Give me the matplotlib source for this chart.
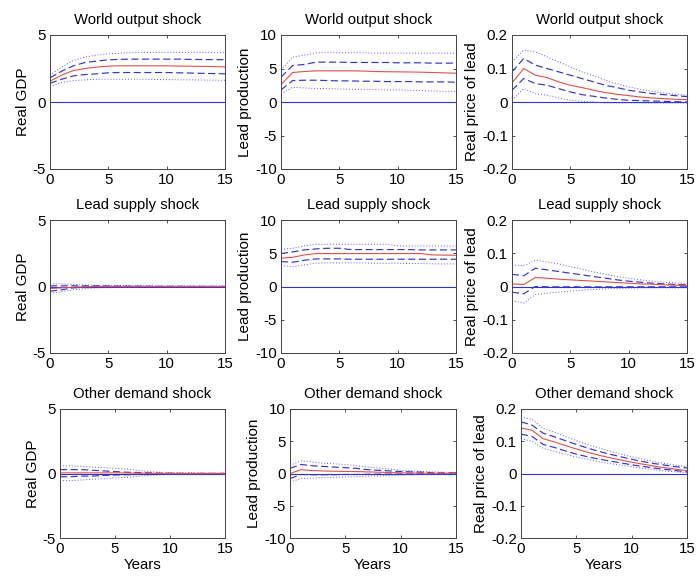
import matplotlib

matplotlib.use("Agg")

import matplotlib.pyplot as plt

plt.rcParams["font.family"] = ["Liberation Sans", "DejaVu Sans"]

years = list(range(16))

shocks = ["World output shock", "Lead supply shock", "Other demand shock"]
variables = ["Real GDP", "Lead production", "Real price of lead"]
ylims = [(-5, 5), (-10, 10), (-0.2, 0.2)]
yticks = [[-5, 0, 5], [-10, -5, 0, 5, 10], [-0.2, -0.1, 0, 0.1, 0.2]]

# each panel: median, lower dashed, upper dashed, lower dotted, upper dotted
wo_gdp = [
    [1.55, 2.0, 2.35, 2.5, 2.6, 2.68, 2.7, 2.7, 2.7, 2.7, 2.7, 2.68, 2.67, 2.66, 2.65, 2.62],
    [1.4, 1.7, 1.95, 2.05, 2.1, 2.18, 2.2, 2.2, 2.2, 2.2, 2.2, 2.18, 2.16, 2.14, 2.12, 2.1],
    [1.8, 2.3, 2.7, 2.95, 3.05, 3.15, 3.18, 3.2, 3.2, 3.2, 3.2, 3.2, 3.18, 3.17, 3.16, 3.16],
    [1.17, 1.45, 1.6, 1.65, 1.7, 1.7, 1.7, 1.7, 1.7, 1.68, 1.67, 1.66, 1.65, 1.64, 1.63, 1.62],
    [2.0, 2.6, 3.1, 3.35, 3.5, 3.6, 3.65, 3.68, 3.7, 3.7, 3.7, 3.7, 3.7, 3.7, 3.68, 3.68],
]
wo_prod = [
    [2.6, 4.4, 4.55, 4.65, 4.65, 4.65, 4.65, 4.62, 4.55, 4.52, 4.5, 4.48, 4.45, 4.4, 4.35, 4.3],
    [1.8, 3.2, 3.25, 3.25, 3.2, 3.15, 3.15, 3.1, 3.1, 3.05, 3.05, 3.05, 3.0, 3.0, 3.0, 2.95],
    [3.7, 5.45, 5.6, 5.95, 5.95, 5.95, 5.9, 5.9, 5.9, 5.9, 5.85, 5.85, 5.85, 5.8, 5.8, 5.8],
    [1.2, 2.2, 2.1, 2.0, 2.0, 1.95, 1.9, 1.9, 1.85, 1.8, 1.8, 1.75, 1.7, 1.65, 1.6, 1.6],
    [4.8, 6.7, 7.0, 7.35, 7.35, 7.35, 7.35, 7.35, 7.3, 7.3, 7.3, 7.3, 7.3, 7.3, 7.3, 7.3],
]
wo_price = [
    [0.057, 0.10, 0.08, 0.073, 0.06, 0.05, 0.043, 0.035, 0.028, 0.023, 0.019, 0.015, 0.012, 0.01, 0.008, 0.007],
    [0.035, 0.07, 0.055, 0.05, 0.04, 0.03, 0.022, 0.017, 0.012, 0.008, 0.005, 0.004, 0.003, 0.002, 0.001, 0.0],
    [0.09, 0.13, 0.11, 0.10, 0.09, 0.08, 0.07, 0.06, 0.05, 0.043, 0.035, 0.03, 0.025, 0.022, 0.019, 0.016],
    [0.005, 0.04, 0.025, 0.02, 0.012, 0.005, 0.002, 0.0, -0.003, -0.003, -0.003, -0.003, -0.003, -0.003, -0.003, -0.003],
    [0.12, 0.155, 0.15, 0.135, 0.12, 0.105, 0.09, 0.078, 0.065, 0.055, 0.045, 0.038, 0.032, 0.027, 0.023, 0.02],
]
ls_gdp = [
    [-0.15, -0.1, -0.05, -0.02, 0.0, 0.0, 0.0, 0.0, 0.0, 0.0, 0.0, 0.0, 0.0, 0.0, 0.0, 0.0],
    [-0.35, -0.25, -0.1, -0.05, -0.03, -0.02, -0.01, 0.0, 0.0, 0.0, 0.0, 0.0, 0.0, 0.0, 0.0, 0.0],
    [0.05, 0.05, 0.05, 0.05, 0.05, 0.04, 0.03, 0.02, 0.02, 0.01, 0.01, 0.01, 0.0, 0.0, 0.0, 0.0],
    [-0.5, -0.4, -0.25, -0.15, -0.1, -0.08, -0.06, -0.05, -0.04, -0.03, -0.03, -0.03, -0.03, -0.03, -0.03, -0.03],
    [0.2, 0.2, 0.15, 0.12, 0.1, 0.09, 0.08, 0.07, 0.06, 0.05, 0.05, 0.05, 0.05, 0.05, 0.05, 0.05],
]
ls_prod = [
    [4.25, 4.4, 4.75, 4.95, 4.95, 4.95, 4.95, 4.95, 4.95, 4.95, 4.95, 4.95, 4.95, 4.75, 4.72, 4.7],
    [3.75, 3.65, 3.95, 4.15, 4.15, 4.15, 4.1, 4.1, 4.1, 4.1, 4.1, 4.1, 4.1, 4.1, 4.1, 4.1],
    [4.95, 5.2, 5.5, 5.65, 5.75, 5.75, 5.55, 5.55, 5.55, 5.55, 5.55, 5.55, 5.5, 5.5, 5.5, 5.5],
    [3.15, 2.95, 3.25, 3.5, 3.55, 3.55, 3.55, 3.55, 3.5, 3.5, 3.5, 3.45, 3.45, 3.4, 3.4, 3.4],
    [5.6, 5.75, 6.1, 6.35, 6.35, 6.35, 6.35, 6.35, 6.35, 6.35, 6.1, 6.1, 6.1, 6.1, 6.1, 6.1],
]
ls_price = [
    [0.008, 0.006, 0.027, 0.025, 0.022, 0.02, 0.018, 0.016, 0.014, 0.012, 0.01, 0.008, 0.007, 0.005, 0.004, 0.003],
    [-0.017, -0.022, 0.0, -0.001, -0.001, -0.001, -0.001, -0.001, -0.001, -0.001, -0.001, -0.001, -0.001, -0.001, -0.001, -0.001],
    [0.037, 0.032, 0.055, 0.05, 0.045, 0.04, 0.035, 0.03, 0.025, 0.02, 0.016, 0.013, 0.01, 0.008, 0.006, 0.005],
    [-0.043, -0.05, -0.024, -0.02, -0.017, -0.014, -0.011, -0.009, -0.007, -0.006, -0.005, -0.004, -0.004, -0.004, -0.004, -0.004],
    [0.065, 0.062, 0.079, 0.074, 0.068, 0.06, 0.052, 0.044, 0.037, 0.03, 0.025, 0.02, 0.016, 0.013, 0.011, 0.009],
]
od_gdp = [
    [0.05, 0.05, 0.05, 0.05, 0.05, 0.05, 0.04, 0.03, 0.02, 0.0, 0.0, 0.0, 0.0, 0.0, 0.0, 0.0],
    [-0.25, -0.25, -0.2, -0.2, -0.15, -0.12, -0.1, -0.07, -0.05, -0.03, -0.02, -0.01, -0.01, -0.01, -0.01, -0.01],
    [0.3, 0.3, 0.3, 0.25, 0.2, 0.15, 0.1, 0.08, 0.05, 0.03, 0.02, 0.01, 0.01, 0.01, 0.01, 0.01],
    [-0.55, -0.55, -0.5, -0.45, -0.4, -0.35, -0.3, -0.22, -0.15, -0.1, -0.08, -0.06, -0.05, -0.04, -0.03, -0.03],
    [0.6, 0.6, 0.55, 0.5, 0.45, 0.4, 0.35, 0.25, 0.15, 0.1, 0.08, 0.06, 0.05, 0.04, 0.03, 0.03],
]
od_prod = [
    [0.0, 0.6, 0.45, 0.4, 0.35, 0.32, 0.3, 0.25, 0.2, 0.15, 0.1, 0.08, 0.05, 0.04, 0.03, 0.02],
    [-0.8, -0.15, -0.2, -0.2, -0.18, -0.15, -0.15, -0.12, -0.1, -0.1, -0.08, -0.06, -0.05, -0.05, -0.05, -0.05],
    [0.8, 1.4, 1.2, 1.1, 1.0, 0.9, 0.8, 0.6, 0.5, 0.4, 0.3, 0.25, 0.2, 0.1, 0.1, 0.1],
    [-1.3, -0.8, -0.7, -0.65, -0.6, -0.55, -0.5, -0.4, -0.35, -0.3, -0.25, -0.2, -0.15, -0.12, -0.1, -0.1],
    [1.3, 1.95, 1.8, 1.6, 1.5, 1.4, 1.2, 1.0, 0.85, 0.7, 0.5, 0.4, 0.3, 0.25, 0.2, 0.15],
]
od_price = [
    [0.141, 0.134, 0.108, 0.098, 0.087, 0.076, 0.066, 0.057, 0.049, 0.042, 0.035, 0.029, 0.023, 0.018, 0.013, 0.009],
    [0.122, 0.115, 0.09, 0.081, 0.07, 0.06, 0.052, 0.045, 0.039, 0.033, 0.027, 0.022, 0.017, 0.013, 0.009, 0.005],
    [0.16, 0.15, 0.125, 0.114, 0.102, 0.09, 0.079, 0.069, 0.06, 0.052, 0.044, 0.037, 0.031, 0.026, 0.021, 0.017],
    [0.108, 0.1, 0.078, 0.069, 0.06, 0.051, 0.044, 0.037, 0.031, 0.026, 0.021, 0.016, 0.012, 0.008, 0.005, 0.002],
    [0.175, 0.168, 0.14, 0.128, 0.115, 0.102, 0.09, 0.08, 0.07, 0.06, 0.052, 0.044, 0.037, 0.031, 0.026, 0.021],
]

panels = [
    [wo_gdp, wo_prod, wo_price],
    [ls_gdp, ls_prod, ls_price],
    [od_gdp, od_prod, od_price],
]

W, H = 696, 576
# pixel boxes (left, right) per column and (top, bottom) per row
cols_top = [(50, 225), (281, 456), (512, 687)]
cols_bottom = [(60, 225), (290, 456), (521, 687)]
rows = [(35, 169), (220, 353), (409, 538)]

fig = plt.figure(figsize=(W / 100, H / 100), dpi=100, facecolor="white")

for r in range(3):
    for c in range(3):
        x0, x1 = (cols_bottom if r == 2 else cols_top)[c]
        t, b = rows[r]
        ax = fig.add_axes([x0 / W, 1 - b / H, (x1 - x0) / W, (b - t) / H])
        med, lo1, hi1, lo2, hi2 = panels[r][c]
        ax.plot([0, 15], [0, 0], color="#3030e0", lw=0.8)
        ax.plot(years, lo2, color="#5a5ae6", lw=0.7, ls=(0, (1, 2)))
        ax.plot(years, hi2, color="#5a5ae6", lw=0.7, ls=(0, (1, 2)))
        ax.plot(years, lo1, color="#3434d2", lw=0.85, ls=(0, (6, 3)))
        ax.plot(years, hi1, color="#3434d2", lw=0.85, ls=(0, (6, 3)))
        ax.plot(years, med, color="#e2504a", lw=0.8)
        ax.set_xlim(0, 15)
        ax.set_ylim(*ylims[c])
        ax.set_xticks([0, 5, 10, 15])
        ax.set_yticks(yticks[c])
        ax.set_yticklabels([f"{v:g}" for v in yticks[c]])
        ax.tick_params(direction="in", length=2.5, width=0.6, labelsize=10.8,
                       top=True, right=True, pad=3, colors="#333333", labelcolor="black")
        for s in ax.spines.values():
            s.set_linewidth(0.7)
            s.set_color("#444444")
        ax.set_title(shocks[r], fontsize=10.7, pad=8)
        ax.set_ylabel(variables[c], fontsize=11, labelpad=2)
        if r == 2:
            ax.set_xlabel("Years", fontsize=10.8, labelpad=1)

fig.savefig("out.png", dpi=100, facecolor="white")
